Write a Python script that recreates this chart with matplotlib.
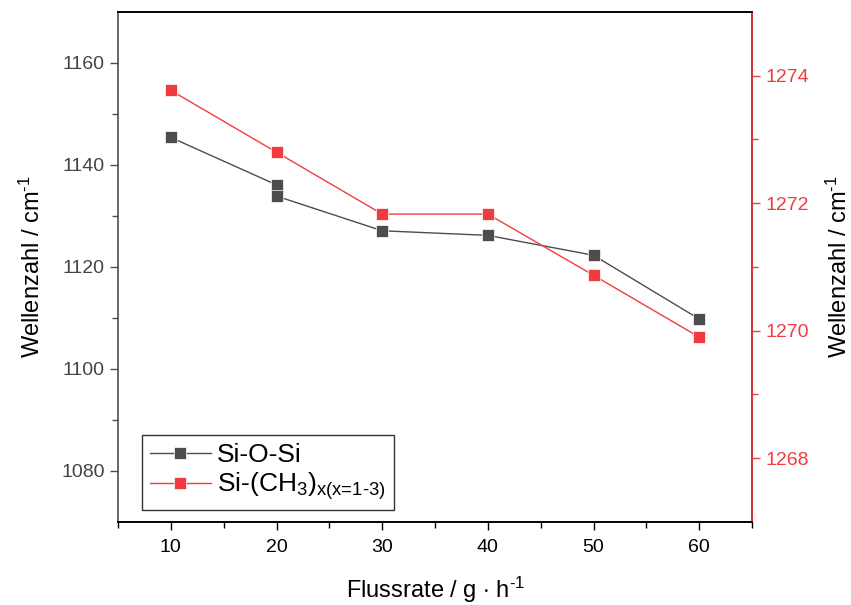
import numpy as np
import matplotlib.pyplot as plt
from matplotlib.ticker import MultipleLocator, FixedLocator

plt.rcParams['font.family'] = ['Liberation Sans', 'DejaVu Sans']
plt.rcParams['mathtext.fontset'] = 'custom'
plt.rcParams['mathtext.rm'] = 'Liberation Sans'
plt.rcParams['mathtext.it'] = 'Liberation Sans'
plt.rcParams['axes.unicode_minus'] = False

# Daten
flussrate_siosi = [10, 20, 20, 30, 40, 50, 60]
wellenzahl_siosi = [1145.4, 1136.1, 1133.9, 1127.1, 1126.2, 1122.3, 1109.8]
flussrate_sich3 = [10, 20, 30, 40, 50, 60]
wellenzahl_sich3 = [1273.77, 1272.80, 1271.83, 1271.83, 1270.87, 1269.90]

grau = '#4d4d4d'
rot = '#f03c40'

fig = plt.figure(figsize=(8.51, 6.05), dpi=100)
ax = fig.add_axes([0.1387, 0.1372, 0.745, 0.8430])
ax2 = ax.twinx()

l1, = ax.plot(flussrate_siosi, wellenzahl_siosi, color=grau, lw=1, marker='s',
              ms=8, mec='white', mew=0.5, label='Si-O-Si')
l2, = ax2.plot(flussrate_sich3, wellenzahl_sich3, color=rot, lw=1, marker='s',
               ms=8, mec='white', mew=0.5,
               label=r'Si-(CH$_{\text{3}}$)$_{\text{x(x=1-3)}}$')

ax.set_xlim(5, 65)
ax.set_ylim(1070, 1170)
ax2.set_ylim(1267, 1275)

ax.xaxis.set_major_locator(MultipleLocator(10))
ax.xaxis.set_minor_locator(MultipleLocator(5))
ax.yaxis.set_major_locator(MultipleLocator(20))
ax.yaxis.set_minor_locator(FixedLocator([1090, 1110, 1130, 1150]))
ax2.yaxis.set_major_locator(MultipleLocator(2))
ax2.yaxis.set_minor_locator(FixedLocator([1269, 1271, 1273]))

ax.tick_params(axis='x', which='major', direction='out', length=6, width=1,
               labelsize=14, colors='black', pad=6)
ax.tick_params(axis='x', which='minor', direction='out', length=4, width=1)
ax.tick_params(axis='y', which='major', direction='out', length=6, width=1,
               labelsize=14, colors=grau, labelcolor='#444444')
ax.tick_params(axis='y', which='minor', direction='out', length=4, width=1, colors=grau)
ax2.tick_params(axis='y', which='major', direction='out', length=6, width=1,
                labelsize=14, colors=rot)
ax2.tick_params(axis='y', which='minor', direction='out', length=4, width=1, colors=rot)

for s in ['top', 'bottom']:
    ax.spines[s].set_color('black')
ax.spines['left'].set_color(grau)
ax2.spines['right'].set_color(rot)
ax2.spines['left'].set_visible(False)
for a in (ax, ax2):
    for s in a.spines.values():
        s.set_linewidth(1.2)

ax.set_xlabel(r'Flussrate / g $\cdot$ h$^{\text{-1}}$', fontsize=17, labelpad=14)
ax.set_ylabel(r'Wellenzahl / cm$^{\text{-1}}$', fontsize=17, labelpad=12)
ax2.set_ylabel(r'Wellenzahl / cm$^{\text{-1}}$', fontsize=17, labelpad=13)

leg = ax.legend(handles=[l1, l2], loc='lower left', bbox_to_anchor=(0.038, 0.0235),
                fontsize=19, frameon=True, fancybox=False, edgecolor='black',
                handlelength=2.3, handletextpad=0.25, borderpad=0.3,
                labelspacing=0.12, borderaxespad=0)
leg.get_frame().set_linewidth(1)

fig.savefig('out.png', dpi=100)
